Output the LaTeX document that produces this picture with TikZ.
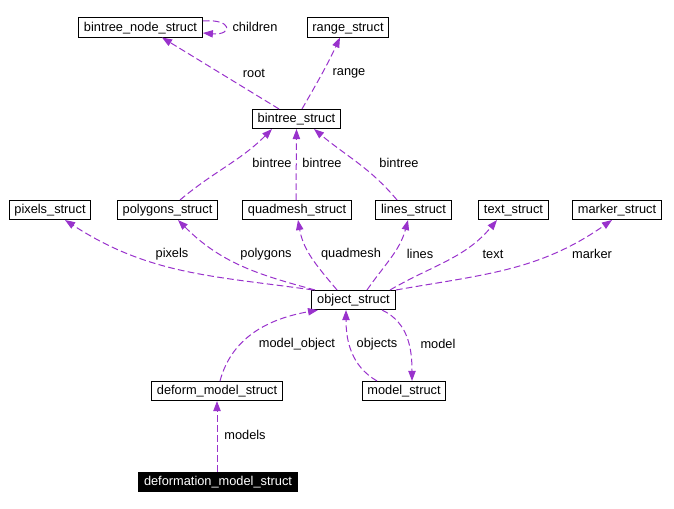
\documentclass[tikz,border=0pt]{standalone}
\usepackage{fontspec}
\setmainfont{Liberation Sans}
\usetikzlibrary{arrows.meta,calc}
\definecolor{edgepurple}{RGB}{153,50,204}
\tikzset{
  structbox/.style={draw=black,line width=0.75pt,fill=white,inner xsep=4pt,inner ysep=2.6pt,text height=7.2pt,text depth=1.9pt,font=\fontsize{9.6pt}{11pt}\selectfont},
  focus/.style={structbox,fill=black,text=white},
  lbl/.style={inner sep=1pt,font=\fontsize{9.6pt}{11pt}\selectfont},
  dep/.style={-{Triangle[length=7.5pt,width=5.5pt]},draw=edgepurple,line width=0.75pt,dash pattern=on 5pt off 2.5pt}
}
\begin{document}
\begin{tikzpicture}[x=0.75pt,y=0.75pt]
  \useasboundingbox (0,0) rectangle (674,508);
  % classes
  \node[structbox] (bnode) at (140.5,480.5) {bintree\_node\_struct};
  \node[structbox] (range) at (348,480.5) {range\_struct};
  \node[structbox] (btree) at (296.5,389) {bintree\_struct};
  \node[structbox] (pixels) at (50,298) {pixels\_struct};
  \node[structbox] (polygons) at (167.5,298) {polygons\_struct};
  \node[structbox] (quadmesh) at (297,298) {quadmesh\_struct};
  \node[structbox] (lines) at (413.5,298) {lines\_struct};
  \node[structbox] (text) at (513.5,298) {text\_struct};
  \node[structbox] (marker) at (617,298) {marker\_struct};
  \node[structbox] (obj) at (353.5,208) {object\_struct};
  \node[structbox] (deform) at (217,117) {deform\_model\_struct};
  \node[structbox] (model) at (404,117) {model\_struct};
  \node[focus] (defm) at (218,26) {deformation\_model\_struct};

  % member labels
  \node[lbl] (l_children) at (255,481) {children};
  \node[lbl] (l_root) at (254,435) {root};
  \node[lbl] (l_range) at (349,435) {range};
  \node[lbl] (l_bt1) at (272,345) {bintree};
  \node[lbl] (l_bt2) at (322,345) {bintree};
  \node[lbl] (l_bt3) at (399,345) {bintree};
  \node[lbl] (l_pixels) at (172,254) {pixels};
  \node[lbl] (l_polygons) at (266,254) {polygons};
  \node[lbl] (l_quadmesh) at (351,254) {quadmesh};
  \node[lbl] (l_lines) at (420,254) {lines};
  \node[lbl] (l_text) at (493,254) {text};
  \node[lbl] (l_marker) at (592,254) {marker};
  \node[lbl] (l_mobj) at (297,164) {model\_object};
  \node[lbl] (l_objects) at (377,164) {objects};
  \node[lbl] (l_model) at (438,164) {model};
  \node[lbl] (l_models) at (245,73) {models};

  % bintree parts
  \draw[dep] ($(bnode.east)+(0,6.5)$) .. controls ($(bnode.east)+(30,9)$) and ($(bnode.east)+(30,-8)$) .. ($(bnode.east)+(0,-5.5)$);
  \draw[dep] ($(btree.north)+(-17.5,0)$) -- ($(bnode.south)+(21.5,0)$);
  \draw[dep] ($(btree.north)+(5.5,0)$) to[out=60,in=-115] ($(range.south)+(-8,0)$);
  \draw[dep] ($(polygons.north)+(12.5,0)$) to[out=40,in=-135] ($(btree.south)+(-24.5,0)$);
  \draw[dep] ($(quadmesh.north)+(-1,0)$) -- ($(btree.south)+(0,0)$);
  \draw[dep] ($(lines.north)+(-16.5,0)$) to[out=130,in=-40] ($(btree.south)+(17.5,0)$);

  % object members
  \draw[dep] ($(obj.north)+(-40.5,0)$) to[out=172,in=-33] ($(pixels.south)+(15,0)$);
  \draw[dep] ($(obj.north)+(-38.5,0)$) to[out=165,in=-45] ($(polygons.south)+(10.5,0)$);
  \draw[dep] ($(obj.north)+(-16.5,0)$) to[out=130,in=-80] ($(quadmesh.south)+(1,0)$);
  \draw[dep] ($(obj.north)+(13.5,0)$) to[out=55,in=-105] ($(lines.south)+(-5.5,0)$);
  \draw[dep] ($(obj.north)+(36.5,0)$) to[out=30,in=-130] ($(text.south)+(-16.5,0)$);
  \draw[dep] ($(obj.north)+(42.5,0)$) to[out=10,in=-145] ($(marker.south)+(-5,0)$);

  % models
  \draw[dep] ($(deform.north)+(3,0)$) to[out=75,in=190] ($(obj.south)+(-35.5,0)$);
  \draw[dep] ($(model.north)+(-27,0)$) to[out=150,in=-90] ($(obj.south)+(-7.5,0)$);
  \draw[dep] ($(obj.south)+(28.5,0)$) to[out=-25,in=90] ($(model.north)+(8,0)$);
  \draw[dep] (defm.north -| deform.south) -- (deform.south);
\end{tikzpicture}
\end{document}
